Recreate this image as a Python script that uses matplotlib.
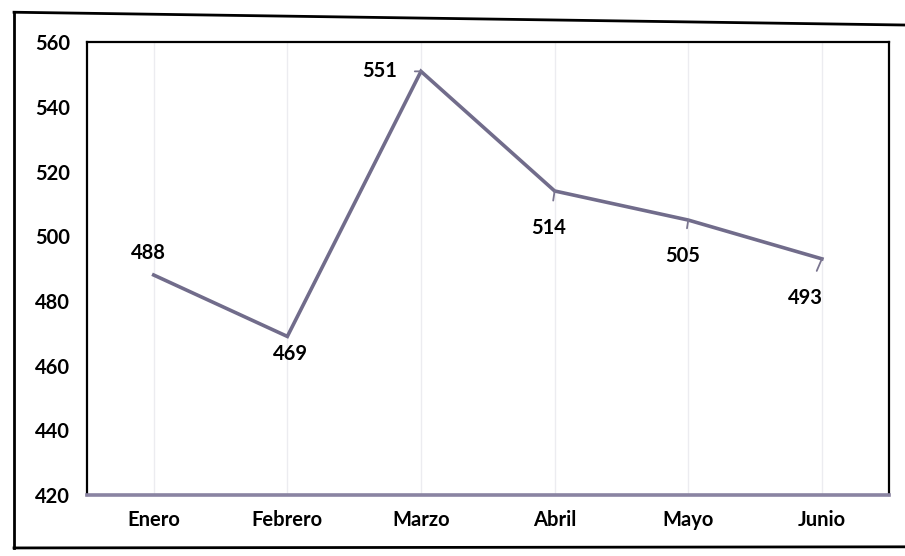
import matplotlib
matplotlib.use("Agg")
import matplotlib.pyplot as plt
from matplotlib.lines import Line2D

meses = ["Enero", "Febrero", "Marzo", "Abril", "Mayo", "Junio"]
valores = [488, 469, 551, 514, 505, 493]
y_ticks = [420, 440, 460, 480, 500, 520, 540, 560]

plt.rcParams['font.family'] = ['Lato', 'DejaVu Sans']

fig = plt.figure(figsize=(9.05, 5.56), dpi=100)
fig.patch.set_facecolor("white")
ax = fig.add_axes([0.096, 0.110, 0.886, 0.814])

x = list(range(len(meses)))
line_color = "#716c8b"
ax.plot(x, valores, color=line_color, lw=2.6, solid_joinstyle="miter", zorder=3)

ax.set_xlim(-0.5, len(meses) - 0.5)
ax.set_ylim(420, 560)
ax.set_yticks(y_ticks)
ax.set_xticks(x)
ax.set_xticklabels(meses)
fs = 14.5
ax.tick_params(axis="both", length=0, labelsize=fs, colors="black")
ax.tick_params(axis="y", pad=12)
ax.tick_params(axis="x", pad=11)
for lab in ax.get_xticklabels() + ax.get_yticklabels():
    lab.set_fontweight("bold")

ax.grid(axis="x", color="#ececf0", lw=1.0, zorder=0)
ax.grid(axis="y", visible=False)

for s in ["left", "top", "right"]:
    ax.spines[s].set_color("black")
    ax.spines[s].set_linewidth(1.6)
ax.spines["bottom"].set_color("#8a84a2")
ax.spines["bottom"].set_linewidth(2.6)

# data labels: (offset in points, leader)
offsets = [(-4, 16, False), (2, -13, False), (-30, 0, True),
           (-4, -27, True), (-4, -26, True), (-12, -28, True)]
for xi, v, (dx, dy, lead) in zip(x, valores, offsets):
    kw = dict(xy=(xi, v), xytext=(dx, dy), textcoords="offset points",
              ha="center", va="center", fontsize=fs, fontweight="bold")
    if lead:
        kw["arrowprops"] = dict(arrowstyle="-", color="#7a7590", lw=1.3,
                                shrinkA=11, shrinkB=0)
    ax.annotate(str(v), **kw)

# outer frame of the scanned chart
lw_frame = 2.0
fig.add_artist(Line2D([0.0155, 0.0155], [0.0145, 0.978], color="black", lw=lw_frame, transform=fig.transFigure))
fig.add_artist(Line2D([0.0155, 1.0], [0.978, 0.955], color="black", lw=lw_frame, transform=fig.transFigure))
fig.add_artist(Line2D([0.0155, 1.0], [0.0145, 0.0165], color="black", lw=lw_frame, transform=fig.transFigure))

fig.savefig("out.png", dpi=100, facecolor="white")
